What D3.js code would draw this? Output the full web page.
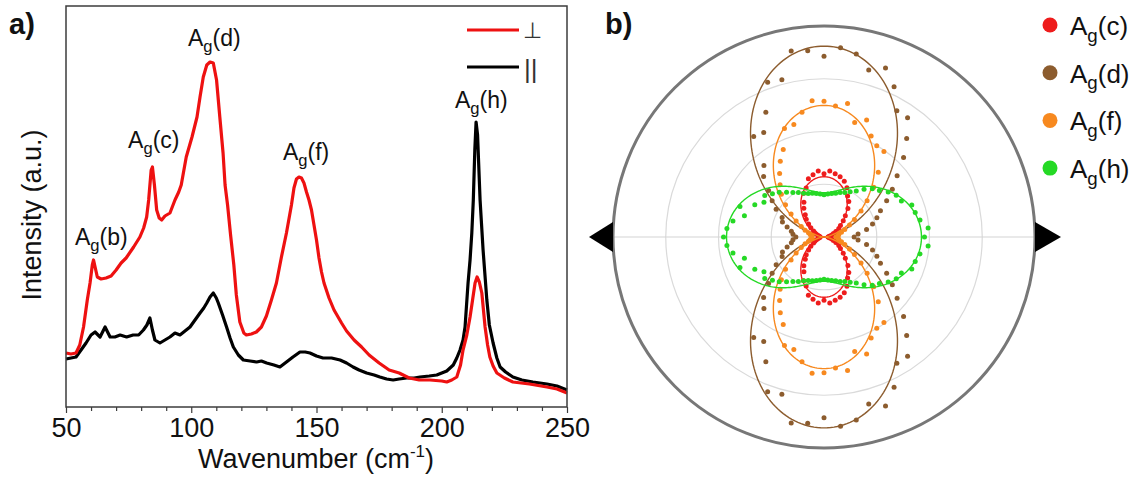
<!DOCTYPE html>
<html>
<head>
<meta charset="utf-8">
<script src="https://cdn.jsdelivr.net/npm/d3@7/dist/d3.min.js"></script>
<style>
  body { margin: 0; background: #fff; }
  text { font-family: "Liberation Sans", Arial, sans-serif; }
</style>
</head>
<body>
<div id="chart"></div>
<script>
// ---------------- panel a) Raman spectra ----------------
// perpendicular (red) spectrum
var perpWave = [50, 52, 54, 55.5, 57, 58.5, 59.6, 60.5, 61, 61.7, 62.5, 64, 66, 68, 70, 72, 74, 77, 79.5, 81, 82.2, 83, 84, 84.5, 85.3, 86.2, 87.2, 88.2, 89.5, 91.5, 93.5, 95, 96, 98, 100.3, 102.3, 103.5, 104.8, 106.2, 107.5, 108.8, 110.1, 111.4, 112.7, 113.5, 114.5, 115.7, 117, 118, 119.4, 121, 122, 124, 126, 128, 130, 132, 134, 136, 138, 140, 141, 142, 143, 144, 145, 146, 147, 148, 149, 150, 151, 152, 153, 155, 157, 160, 162, 165, 168, 171, 175, 179, 183, 187, 191, 195.3, 200, 202, 204, 206, 207.5, 208.5, 210, 211.3, 212.3, 213.3, 214.1, 215, 216, 217.3, 218.3, 219.2, 220.5, 222, 225, 228.4, 235, 242, 246, 250];
var perpInt = [54, 53, 54, 62, 80, 107, 124, 142, 147, 139, 130, 128, 129, 131, 137, 144, 149, 160, 170, 179, 190, 207, 237, 240, 222, 197, 189, 187, 191, 194, 207, 215, 222, 250, 270, 290, 310, 330, 342, 345, 344, 327, 290, 254, 222, 202, 172, 142, 112, 85, 74, 72, 73, 75, 80, 91, 107, 124, 150, 174, 202, 219, 228, 230, 229, 224, 215, 207, 197, 182, 167, 149, 135, 124, 109, 97, 84, 76, 67, 60, 52, 44, 37, 34, 29, 27, 27, 26, 25, 27, 30, 42, 57, 72, 90, 107, 124, 130, 125, 114, 80, 62, 50, 41, 34, 29, 25, 23, 20, 18, 14];

// parallel (black) spectrum
var paraWave = [50, 52, 54, 56, 58, 60, 61.6, 63.6, 65.6, 67.6, 69.5, 71.6, 74.2, 76.8, 79, 80.9, 82.3, 83.5, 84.5, 85.5, 87.5, 89.5, 91.5, 93.5, 95.5, 97.5, 99.5, 101.5, 103.5, 105, 106.2, 107.5, 108.8, 110, 110.8, 112.5, 114.1, 115.5, 116.8, 118.8, 120.8, 123.5, 126.1, 128, 130.1, 133, 135.4, 138, 140.6, 143.4, 145.5, 147.4, 150, 152.6, 156, 159.4, 162, 164.6, 167, 170, 173, 175.3, 178, 180.6, 183, 186, 189, 191.3, 195, 198, 200, 202, 204.6, 206, 207.3, 208.5, 209.3, 210.5, 211.3, 212, 212.6, 213.2, 213.7, 214.3, 215.3, 216.5, 218, 219, 220.5, 222, 223.3, 225.5, 228.4, 232, 236.4, 242, 246, 250];
var paraInt = [48, 49, 50, 57, 64, 72, 75, 70, 80, 70, 70, 72, 70, 72, 72, 77, 82, 89, 77, 67, 64, 67, 70, 74, 72, 76, 80, 87, 94, 99, 104, 110, 114, 109, 104, 92, 80, 69, 60, 52, 47, 46, 45, 46, 44, 42, 40, 45, 50, 55, 55, 54, 51, 49, 49, 47, 44, 40, 37, 34, 32, 30, 28, 27, 28, 29, 29, 30, 31, 32, 34, 36, 42, 49, 57, 67, 80, 124, 147, 174, 207, 257, 285, 272, 207, 157, 107, 82, 64, 49, 40, 35, 30, 27, 25, 23, 21, 17];

var xTicks = [50, 100, 150, 200, 250];
var peakLabels = ["b", "c", "d", "f", "h"];
var peakLabelWave = [53.6, 74.8, 98.7, 136.6, 205.3];   // label start
var peakLabelInt = [162, 259, 361, 247, 299];

// ---------------- panel b) polar plot ----------------
var polarAngles = d3.range(0, 181, 5); // degrees, measured 0-180 and mirrored
var modeNames = ["c", "d", "f", "h"];
var modeColors = ["#ee1c1c", "#8c5c2e", "#f7891f", "#25d925"];
var agC = [4, 5, 6, 8, 10, 13, 17, 20, 25, 30, 37, 43, 47, 54, 59, 62, 64, 66, 63, 66, 63, 60, 52, 48, 40, 35, 29, 25, 20, 16, 12, 10, 8, 6, 5, 4, 4];
var agD = [30, 34, 43, 50, 56, 62, 72, 83, 95, 112, 128, 145, 145, 165, 179, 172, 185, 189, 180, 186, 188, 162, 164, 137, 120, 122, 93, 85, 72, 63, 55, 46, 44, 38, 33, 31, 28];
var agF = [12, 14, 15, 18, 22, 28, 35, 45, 56, 70, 84, 104, 105, 111, 124, 118, 135, 131, 135, 136, 126, 116, 115, 96, 87, 77, 68, 60, 50, 40, 32, 25, 20, 16, 14, 12, 12];
var agH = [100, 104, 97, 94, 93, 85, 83, 78, 72, 68, 62, 56, 52, 49, 47, 45, 44, 43, 42, 43, 44, 45, 46, 48, 51, 54, 58, 63, 67, 72, 69, 76, 89, 82, 92, 97, 100];
// fit: I(theta) = a*cos^2 + b*sin^2
var fitCos2 = [0, 0, 0, 97];
var fitSin2 = [60, 190, 131, 44];
var polarRings = [52.5, 105, 157.5, 210];

var svg = d3.select("#chart").append("svg")
  .attr("width", 1142)
  .attr("height", 483);

// ======== panel a ========
var x = d3.scaleLinear().domain([50, 250]).range([66, 567]);
var y = d3.scaleLinear().domain([0, 401]).range([407, 6]);

var line = d3.line()
  .x(d => x(d[0]))
  .y(d => y(d[1]));

svg.append("path")
  .datum(paraWave.map((w, i) => [w, paraInt[i]]))
  .attr("d", line)
  .attr("fill", "none")
  .attr("stroke", "#000")
  .attr("stroke-width", 3.2)
  .attr("stroke-linejoin", "round");

svg.append("path")
  .datum(perpWave.map((w, i) => [w, perpInt[i]]))
  .attr("d", line)
  .attr("fill", "none")
  .attr("stroke", "#ee1111")
  .attr("stroke-width", 3.2)
  .attr("stroke-linejoin", "round");

// frame
svg.append("rect")
  .attr("x", 66).attr("y", 6)
  .attr("width", 501).attr("height", 401)
  .attr("fill", "none")
  .attr("stroke", "#3c3c3c")
  .attr("stroke-width", 1.5);

// minor ticks
svg.append("g")
  .attr("transform", "translate(0,407)")
  .call(d3.axisBottom(x).tickValues(d3.range(60, 250, 10).filter(v => v % 50 !== 0)).tickSize(4).tickFormat(""))
  .call(g => g.select(".domain").remove())
  .selectAll("line").attr("stroke", "#3c3c3c").attr("stroke-width", 1.2);

// major ticks
var xAxis = svg.append("g")
  .attr("transform", "translate(0,407)")
  .call(d3.axisBottom(x).tickValues(xTicks).tickSize(6).tickPadding(4.5));
xAxis.select(".domain").remove();
xAxis.selectAll("line").attr("stroke", "#3c3c3c").attr("stroke-width", 1.2);
xAxis.selectAll("text")
  .attr("font-family", "Liberation Sans, Arial, sans-serif")
  .attr("font-size", 27)
  .attr("fill", "#111");

// axis titles
var xt = svg.append("text")
  .attr("x", 316).attr("y", 468)
  .attr("text-anchor", "middle")
  .attr("font-size", 27)
  .attr("fill", "#111");
xt.append("tspan").text("Wavenumber (cm");
xt.append("tspan").attr("font-size", 17).attr("dy", -11).text("-1");
xt.append("tspan").attr("dy", 11).text(")");

svg.append("text")
  .attr("transform", "rotate(-90)")
  .attr("x", -215).attr("y", 41)
  .attr("text-anchor", "middle")
  .attr("font-size", 27)
  .attr("fill", "#111")
  .text("Intensity (a.u.)");

// peak labels
function agLabel(sel, mode, size) {
  sel.append("tspan").text("A");
  sel.append("tspan").attr("font-size", size * 0.72).attr("dy", size * 0.25).text("g");
  sel.append("tspan").attr("dy", -size * 0.25).text("(" + mode + ")");
}
peakLabels.forEach(function(m, i) {
  var t = svg.append("text")
    .attr("x", x(peakLabelWave[i]))
    .attr("y", y(peakLabelInt[i]))
    .attr("font-size", 23)
    .attr("fill", "#111");
  agLabel(t, m, 23);
});

// legend a
svg.append("line").attr("x1", 467).attr("x2", 519).attr("y1", 30).attr("y2", 30)
  .attr("stroke", "#ee1111").attr("stroke-width", 3.2);
svg.append("text").attr("x", 523).attr("y", 38).attr("font-size", 22).attr("fill", "#333").text("⊥");
svg.append("line").attr("x1", 467).attr("x2", 519).attr("y1", 67).attr("y2", 67)
  .attr("stroke", "#000").attr("stroke-width", 3.2);
svg.append("text").attr("x", 524).attr("y", 78).attr("font-size", 26).attr("fill", "#333").text("||");

// panel letters
svg.append("text").attr("x", 9).attr("y", 34).attr("font-size", 29).attr("font-weight", "bold").attr("fill", "#111").text("a)");
svg.append("text").attr("x", 605).attr("y", 34).attr("font-size", 29).attr("font-weight", "bold").attr("fill", "#111").text("b)");

// ======== panel b ========
var cx = 824, cy = 237;
var r = d3.scaleLinear().domain([0, 210]).range([0, 211]);
var polar = svg.append("g").attr("transform", `translate(${cx},${cy})`);

polar.selectAll(".ring")
  .data(polarRings.slice(0, 3))
  .enter().append("circle")
  .attr("r", d => r(d))
  .attr("fill", "none")
  .attr("stroke", "#dadada")
  .attr("stroke-width", 1.2);

polar.append("line")
  .attr("x1", -r(210)).attr("x2", r(210))
  .attr("stroke", "#d4d4d4").attr("stroke-width", 1.2);

polar.append("circle")
  .attr("r", r(210))
  .attr("fill", "none")
  .attr("stroke", "#777")
  .attr("stroke-width", 3);

var allModes = [agC, agD, agF, agH];
var drawOrder = [1, 0, 2, 3];
var toRad = Math.PI / 180;

drawOrder.forEach(function(k) {
  var col = modeColors[k];
  var fit = d => fitCos2[k] * Math.pow(Math.cos(d * toRad), 2) + fitSin2[k] * Math.pow(Math.sin(d * toRad), 2);
  var radial = d3.lineRadial()
    .angle(d => Math.PI / 2 - d * toRad)
    .radius(d => r(fit(d)));
  polar.append("path")
    .datum(d3.range(0, 361, 1))
    .attr("d", radial)
    .attr("fill", "none")
    .attr("stroke", col)
    .attr("stroke-width", 1.4);

  var pts = [];
  polarAngles.forEach(function(a, i) {
    pts.push([a, allModes[k][i]]);
    if (a > 0 && a < 180) pts.push([360 - a, allModes[k][i]]);
  });
  polar.selectAll(".dot" + k)
    .data(pts)
    .enter().append("circle")
    .attr("cx", d => r(d[1]) * Math.cos(d[0] * toRad))
    .attr("cy", d => -r(d[1]) * Math.sin(d[0] * toRad))
    .attr("r", 2.5)
    .attr("fill", col);
});

// polarisation arrows
svg.append("path").attr("d", `M${cx - 211},${cy - 15}L${cx - 211},${cy + 15}L${cx - 235},${cy}Z`).attr("fill", "#000");
svg.append("path").attr("d", `M${cx + 211},${cy - 15}L${cx + 211},${cy + 15}L${cx + 237},${cy}Z`).attr("fill", "#000");

// legend b
modeNames.forEach(function(m, i) {
  var ly = 35 + i * 47.7;
  svg.append("circle").attr("cx", 1050).attr("cy", ly - 10).attr("r", 7.5).attr("fill", modeColors[i]);
  var t = svg.append("text").attr("x", 1070).attr("y", ly).attr("font-size", 26).attr("fill", "#111");
  agLabel(t, m, 26);
});
</script>
</body>
</html>
